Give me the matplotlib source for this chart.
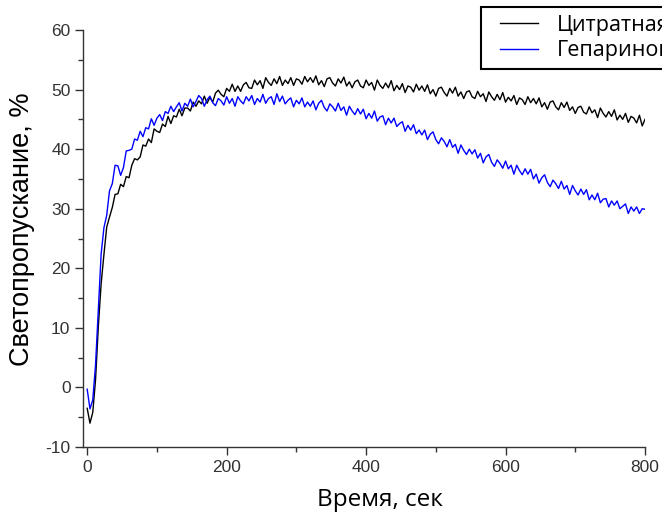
import numpy as np
import matplotlib
matplotlib.use("Agg")
import matplotlib.pyplot as plt
from matplotlib.ticker import MultipleLocator
from matplotlib.legend_handler import HandlerLine2D

plt.rcParams["axes.unicode_minus"] = False

time_step = 4  # seconds between samples
citrate = [
    -3.5, -6.0, -4.2, 1.3, 10.2, 17.4, 22.3, 26.9, 28.6, 30.2,
    32.4, 32.5, 34.1, 33.7, 35.4, 35.2, 37.3, 38.4, 38.2, 38.7,
    40.7, 40.5, 41.7, 41.1, 43.4, 43.0, 42.8, 44.2, 43.8, 45.5,
    44.3, 45.6, 45.4, 46.7, 45.6, 46.9, 46.9, 46.4, 47.9, 47.2,
    48.1, 47.6, 48.9, 47.7, 48.7, 47.9, 49.4, 49.9, 49.2, 48.8,
    50.2, 49.7, 50.9, 49.7, 50.6, 49.7, 50.8, 51.2, 50.3, 50.2,
    51.6, 50.8, 51.5, 50.2, 52.0, 51.2, 50.7, 51.8, 51.0, 52.2,
    50.7, 51.6, 51.0, 52.0, 50.7, 51.8, 51.6, 50.9, 52.2, 51.3,
    52.0, 51.2, 52.3, 50.8, 51.5, 50.5, 51.8, 52.0, 51.1, 50.6,
    51.8, 51.1, 52.1, 50.6, 51.3, 50.3, 51.3, 51.6, 50.6, 50.3,
    51.6, 50.7, 51.2, 49.9, 51.6, 50.7, 50.2, 51.1, 50.3, 51.5,
    49.8, 50.7, 50.0, 51.0, 49.5, 50.6, 50.4, 49.6, 50.9, 49.9,
    50.6, 49.7, 50.8, 49.3, 50.0, 48.9, 50.2, 50.4, 49.5, 48.9,
    50.2, 49.4, 50.4, 48.9, 49.6, 48.5, 49.6, 49.8, 48.8, 48.5,
    49.7, 48.8, 49.3, 48.0, 49.6, 48.8, 48.2, 49.2, 48.3, 49.5,
    47.9, 48.7, 48.1, 49.0, 47.5, 48.6, 48.3, 47.5, 48.8, 47.8,
    48.5, 47.6, 48.6, 47.1, 47.8, 46.7, 47.9, 48.1, 47.1, 46.6,
    47.8, 47.0, 47.9, 46.5, 47.1, 46.0, 47.0, 47.2, 46.2, 45.9,
    47.1, 46.1, 46.6, 45.3, 46.9, 46.0, 45.4, 46.3, 45.5, 46.6,
    44.9, 45.7, 45.0, 46.0, 44.5, 45.5, 45.2, 44.4, 45.7, 43.9,
    45.0,
]
heparin = [
    -0.3, -3.6, -2.1, 3.8, 13.2, 22.4, 26.8, 28.9, 33.0, 34.2,
    37.3, 37.2, 35.6, 36.9, 39.7, 39.8, 40.0, 41.7, 41.5, 43.0,
    42.1, 43.6, 43.4, 45.1, 44.0, 45.2, 45.8, 44.8, 46.3, 46.0,
    47.2, 46.3, 47.1, 47.8, 46.4, 47.7, 47.2, 48.4, 47.1, 48.0,
    49.0, 48.5, 47.2, 48.3, 48.9, 47.8, 47.3, 48.5, 48.1, 47.4,
    48.8, 47.7, 48.5, 47.2, 48.8, 48.1, 47.6, 48.8, 48.1, 49.0,
    47.5, 48.5, 47.9, 49.2, 47.7, 48.5, 48.8, 47.5, 49.3, 48.0,
    48.9, 47.6, 48.2, 48.6, 47.1, 48.2, 47.6, 48.6, 47.1, 47.9,
    47.2, 48.1, 46.6, 47.7, 48.2, 47.0, 46.4, 47.6, 47.1, 46.4,
    47.7, 46.5, 47.1, 45.7, 47.2, 46.4, 45.8, 46.8, 45.9, 46.7,
    45.1, 46.0, 45.2, 46.4, 44.7, 45.4, 45.6, 44.1, 45.2, 44.4,
    45.2, 43.8, 44.3, 44.6, 43.0, 44.0, 43.2, 44.1, 42.6, 43.2,
    42.4, 43.2, 41.6, 42.5, 42.9, 41.6, 40.9, 41.9, 41.3, 40.4,
    41.6, 40.3, 40.8, 39.3, 40.7, 39.8, 39.1, 40.0, 39.2, 39.9,
    38.5, 39.3, 37.7, 38.7, 39.1, 37.8, 37.1, 38.2, 37.6, 36.8,
    38.0, 36.7, 37.3, 35.8, 37.3, 36.4, 35.7, 36.7, 35.8, 36.6,
    35.0, 35.8, 34.3, 35.2, 35.7, 34.4, 33.7, 34.8, 34.2, 33.4,
    34.6, 33.3, 33.9, 32.4, 33.9, 33.0, 32.3, 33.3, 32.4, 33.2,
    31.5, 32.3, 31.5, 32.6, 31.0, 31.6, 31.7, 30.3, 31.3, 30.6,
    31.3, 30.0, 30.4, 30.8, 29.2, 30.3, 29.6, 30.3, 29.2, 30.0,
    29.9,
]
series_labels = ["Цитратная", "Гепариновая"]
x_ticks = [0, 200, 400, 600, 800]
y_ticks = [-10, 0, 10, 20, 30, 40, 50, 60]

t = np.arange(len(citrate)) * time_step

fig = plt.figure(figsize=(6.62, 5.17), dpi=100)
ax = fig.add_axes([83/662, 1-447/517, (645-83)/662, (447-30)/517])

l1, = ax.plot(t, citrate, color="black", lw=1.0)
l2, = ax.plot(t, heparin, color="#0000ff", lw=1.0)

ax.set_xlim(-6, 800)
ax.set_ylim(-10, 60)
ax.set_xticks(x_ticks)
ax.set_yticks(y_ticks)
ax.xaxis.set_minor_locator(MultipleLocator(100))
ax.yaxis.set_minor_locator(MultipleLocator(5))
for s in ["top", "right"]:
    ax.spines[s].set_visible(False)
for s in ["left", "bottom"]:
    ax.spines[s].set_color("#333333")
    ax.spines[s].set_linewidth(1.0)
ax.tick_params(which="major", direction="out", length=6, width=1.0, color="#333333",
               labelsize=12.5, labelcolor="#333333", pad=3)
ax.tick_params(which="minor", direction="out", length=3.5, width=1.0, color="#333333")
for lab in ax.get_xticklabels() + ax.get_yticklabels():
    lab.set_family("Liberation Sans")

ax.set_xlabel("Время, сек", fontsize=17.5, family="Open Sans", color="black")
ax.xaxis.set_label_coords((380-83)/(645-83), -(500-447)/(447-30), transform=ax.transAxes)
ax.xaxis.label.set_va("center")
ax.set_ylabel("Светопропускание, %", fontsize=19.5, family="Liberation Sans", color="black")
ax.yaxis.set_label_coords(-(83-22)/(645-83), (447-229)/(447-30), transform=ax.transAxes)
ax.yaxis.label.set_va("center")

hl = {l1: HandlerLine2D(xpad=0.5), l2: HandlerLine2D(xpad=0.5)}
leg = fig.legend([l1, l2], series_labels, loc="upper left", handler_map=hl,
                 bbox_to_anchor=(481/662, 1-7/517), borderaxespad=0.0, frameon=True, fancybox=False,
                 framealpha=1, edgecolor="black", prop={"family": "Open Sans", "size": 15.5},
                 handlelength=2.3, handletextpad=0.85, borderpad=0.37, labelspacing=0.19)
leg.get_frame().set_linewidth(1.5)

fig.savefig("out.png", dpi=100)
